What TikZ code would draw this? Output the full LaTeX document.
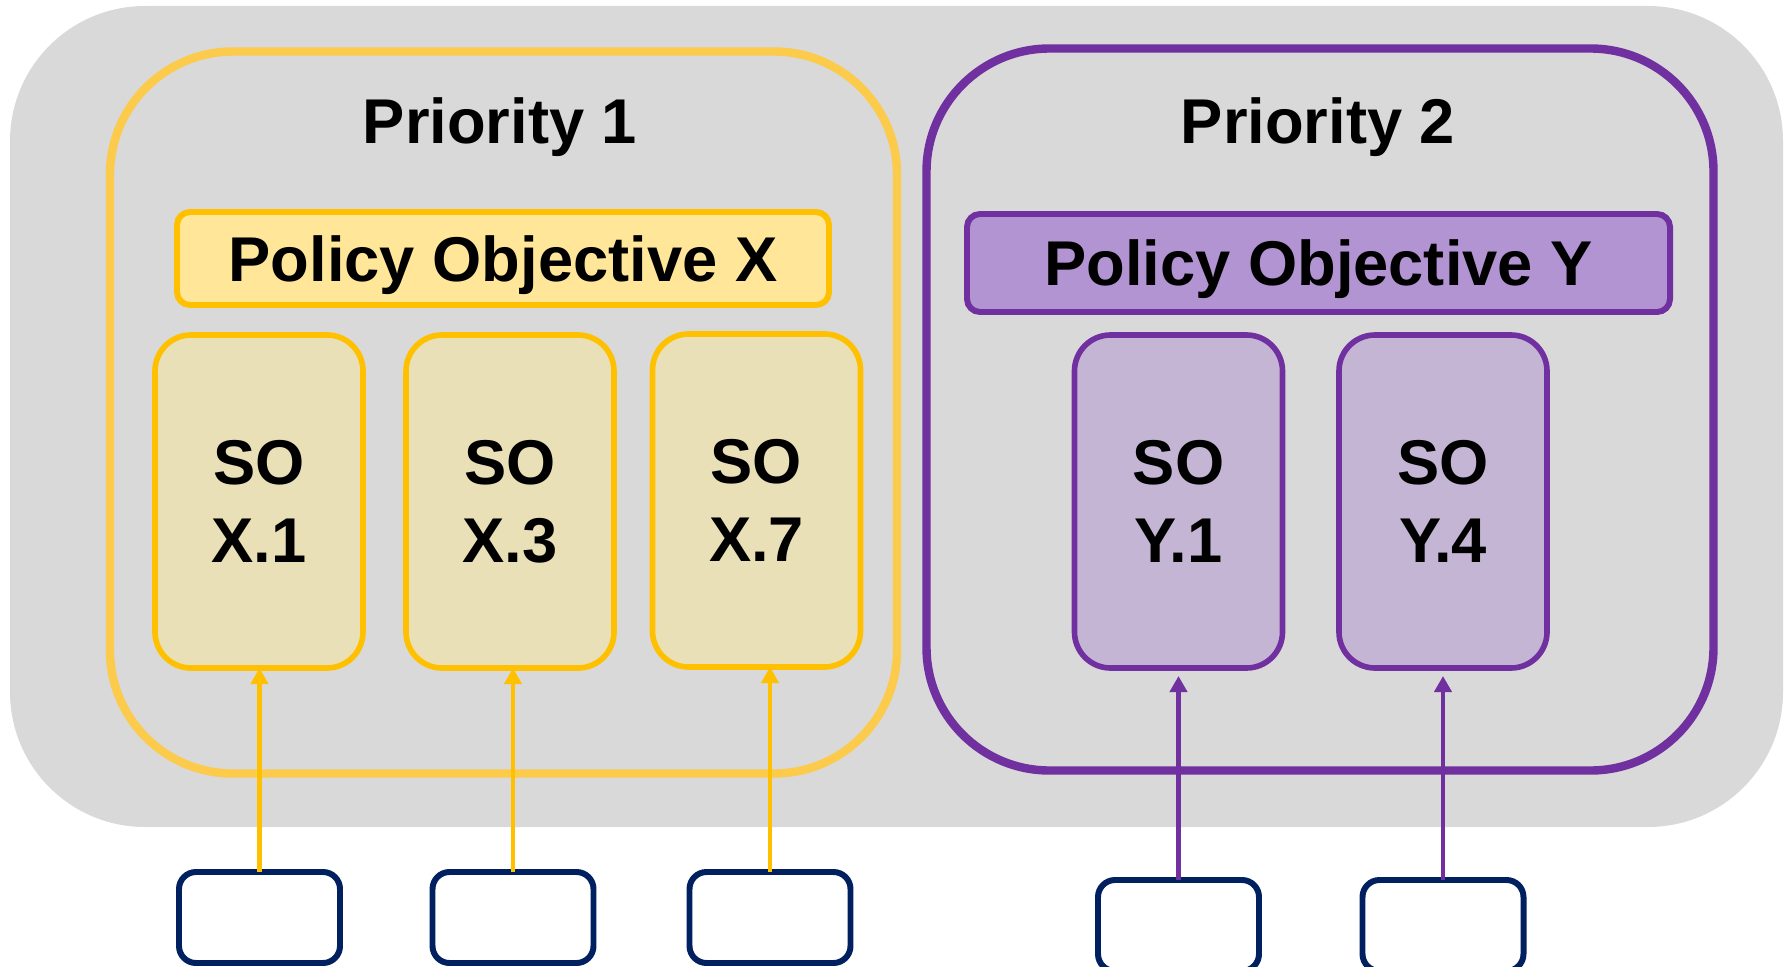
\documentclass[tikz,border=0pt]{standalone}
\usepackage{fontspec}
\setmainfont{Liberation Sans}
\usetikzlibrary{arrows.meta}
\definecolor{bggray}{HTML}{D9D9D9}
\definecolor{gold}{HTML}{FFC000}
\definecolor{softgold}{HTML}{FDCB4B}
\definecolor{polxfill}{HTML}{FFE699}
\definecolor{soxfill}{HTML}{EAE0B7}
\definecolor{prpl}{HTML}{7030A0}
\definecolor{polyfill}{HTML}{B194D1}
\definecolor{soyfill}{HTML}{C5B5D5}
\definecolor{navy}{HTML}{002060}
\begin{document}
\begin{tikzpicture}[>={Triangle[width=0.17cm,length=0.16cm]},
  every node/.style={inner sep=0pt, outer sep=0pt, font=\fontsize{18}{22.2}\selectfont\bfseries, align=center},
  oneline/.style={text height=12.9pt, text depth=0pt},
  prio/.style={draw, line width=2.4pt, rounded corners=1.23cm, minimum width=7.87cm, minimum height=7.22cm},
  policy/.style={oneline, draw, line width=1.7pt, rounded corners=0.13cm},
  sobox/.style={draw, line width=1.6pt, rounded corners=0.36cm, minimum width=2.08cm, minimum height=3.33cm},
  inbox/.style={draw=navy, fill=white, line width=1.7pt, rounded corners=0.17cm, minimum width=1.61cm, minimum height=0.91cm}]
  \useasboundingbox (0,0) rectangle (17.92,-9.67);
  % background
  \fill [bggray, rounded corners=1.35cm] (0.10,-0.06) rectangle (17.83,-8.27);
  % priority frames
  \node [prio, draw=softgold] (prio1) at (5.035,-4.125) {};
  \node [prio, draw=prpl] (prio2) at (13.20,-4.095) {};
  \node [oneline] (title1) at (5.0,-1.205) {Priority 1};
  \node [oneline] (title2) at (13.18,-1.205) {Priority 2};
  % policy objectives
  \node [policy, draw=gold, fill=polxfill, minimum width=6.52cm, minimum height=0.93cm] (polX) at (5.03,-2.585) {Policy Objective X};
  \node [policy, draw=prpl, fill=polyfill, minimum width=7.03cm, minimum height=0.98cm] (polY) at (13.185,-2.63) {Policy Objective Y};
  % specific objectives
  \node [sobox, draw=gold, fill=soxfill] (soX1) at (2.59,-5.015) {SO\\X.1};
  \node [sobox, draw=gold, fill=soxfill] (soX3) at (5.10,-5.015) {SO\\X.3};
  \node [sobox, draw=gold, fill=soxfill] (soX7) at (7.565,-5.005) {SO\\X.7};
  \node [sobox, draw=prpl, fill=soyfill] (soY1) at (11.785,-5.015) {SO\\Y.1};
  \node [sobox, draw=prpl, fill=soyfill] (soY4) at (14.43,-5.015) {SO\\Y.4};
  % inputs
  \node [inbox] (inX1) at (2.595,-9.175) {};
  \node [inbox] (inX3) at (5.13,-9.175) {};
  \node [inbox] (inX7) at (7.70,-9.175) {};
  \node [inbox] (inY1) at (11.785,-9.255) {};
  \node [inbox] (inY4) at (14.43,-9.255) {};
  % arrows
  \foreach \a/\b in {inX1/soX1, inX3/soX3, inX7/soX7}
    \draw [->, gold, line width=1.4pt] (\a.north) -- (\a.north |- \b.south);
  \foreach \a/\b in {inY1/soY1, inY4/soY4}
    \draw [->, prpl, line width=1.4pt, shorten >=0.08cm] (\a.north) -- (\a.north |- \b.south);
\end{tikzpicture}
\end{document}
